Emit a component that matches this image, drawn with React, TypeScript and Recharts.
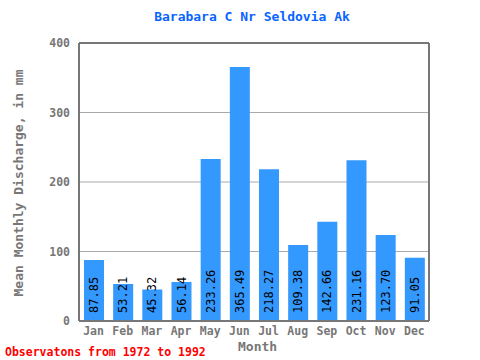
import { BarChart, Bar, XAxis, YAxis, CartesianGrid, LabelList } from "recharts"

const months = ["Jan", "Feb", "Mar", "Apr", "May", "Jun", "Jul", "Aug", "Sep", "Oct", "Nov", "Dec"]
const discharge = [87.85, 53.21, 45.32, 56.14, 233.26, 365.49, 218.27, 109.38, 142.66, 231.16, 123.7, 91.05]
const yTicks = [0, 100, 200, 300, 400]
const minorTicks = [0, 20, 40, 60, 80, 100, 120, 140, 160, 180, 200, 220, 240, 260, 280, 300, 320, 340, 360, 380, 400]
const monthEdges = [1, 2, 3, 4, 5, 6, 7, 8, 9, 10, 11]

const data = months.map((m, i) => ({ month: m, value: discharge[i] }))

const mono = "'DejaVu Sans Mono', monospace"
const gray = "#777777"

function BarValue(props: any) {
  const { x, y, width, height, value } = props
  const cx = x + width / 2
  const by = y + height - 8
  return (
    <text
      x={cx}
      y={by}
      transform={`rotate(-90, ${cx}, ${by})`}
      textAnchor="start"
      dominantBaseline="central"
      fontFamily={mono}
      fontSize={12}
      fill="#000"
    >
      {Number(value).toFixed(2)}
    </text>
  )
}

export default function App() {
  return (
    <div style={{ position: "absolute", left: 0, top: 0, width: 480, height: 360, background: "#fff" }}>
      <div
        style={{
          position: "absolute", left: 0, top: 9, width: 504, textAlign: "center",
          fontFamily: mono, fontWeight: "bold", fontSize: 13, color: "#0a64ff",
        }}
      >
        Barabara C Nr Seldovia Ak
      </div>
      <div
        style={{
          position: "absolute", left: 18, top: 183, width: 0, height: 0,
        }}
      >
        <div
          style={{
            position: "absolute", transform: "translate(-50%, -50%) rotate(-90deg)",
            whiteSpace: "nowrap", fontFamily: mono, fontWeight: "bold", fontSize: 13, color: gray,
          }}
        >
          Mean Monthly Discharge, in mm
        </div>
      </div>
      <div
        style={{
          position: "absolute", left: 238, top: 339, fontFamily: mono, fontWeight: "bold",
          fontSize: 13, color: gray,
        }}
      >
        Month
      </div>
      <div
        style={{
          position: "absolute", left: 5, top: 345, fontFamily: mono, fontWeight: "bold",
          fontSize: 11.5, color: "#ff0000", whiteSpace: "nowrap",
        }}
      >
        Observatons from 1972 to 1992
      </div>
      <BarChart
        width={480}
        height={360}
        data={data}
        margin={{ top: 43, right: 51, bottom: 19, left: 39 }}
        barSize={20}
      >
        <CartesianGrid yAxisId="l" horizontal vertical={false} stroke="#aaaaaa" />
        <XAxis
          xAxisId="c"
          dataKey="month"
          height={20}
          tickLine={false}
          tickSize={0}
          tickMargin={6}
          axisLine={{ stroke: gray, strokeWidth: 2 }}
          tick={{ fill: gray, fontFamily: mono, fontWeight: "bold", fontSize: 11.5 }}
          interval={0}
        />
        <XAxis
          xAxisId="b"
          type="number"
          domain={[0, 12]}
          allowDataOverflow
          ticks={monthEdges}
          orientation="bottom"
          mirror
          tick={false}
          tickSize={6}
          tickLine={{ stroke: gray, strokeWidth: 2 }}
          axisLine={false}
        />
        <XAxis
          xAxisId="t"
          type="number"
          domain={[0, 12]}
          allowDataOverflow
          ticks={monthEdges}
          orientation="top"
          mirror
          tick={false}
          tickSize={6}
          tickLine={{ stroke: gray, strokeWidth: 2 }}
          axisLine={{ stroke: gray, strokeWidth: 2 }}
        />
        <YAxis
          yAxisId="l"
          domain={[0, 400]}
          ticks={yTicks}
          width={40}
          tickLine={false}
          tickSize={0}
          tickMargin={9}
          axisLine={{ stroke: gray, strokeWidth: 2 }}
          tick={{ fill: gray, fontFamily: mono, fontWeight: "bold", fontSize: 11.5 }}
        />
        <YAxis
          yAxisId="lm"
          domain={[0, 400]}
          ticks={minorTicks}
          mirror
          tick={false}
          tickSize={4}
          tickLine={{ stroke: gray, strokeWidth: 2 }}
          axisLine={false}
        />
        <YAxis
          yAxisId="rm"
          orientation="right"
          domain={[0, 400]}
          ticks={minorTicks}
          mirror
          tick={false}
          tickSize={4}
          tickLine={{ stroke: gray, strokeWidth: 2 }}
          axisLine={{ stroke: gray, strokeWidth: 2 }}
        />
        <Bar dataKey="value" xAxisId="c" yAxisId="l" fill="#3399ff" isAnimationActive={false}>
          <LabelList dataKey="value" content={BarValue} />
        </Bar>
      </BarChart>
    </div>
  )
}
